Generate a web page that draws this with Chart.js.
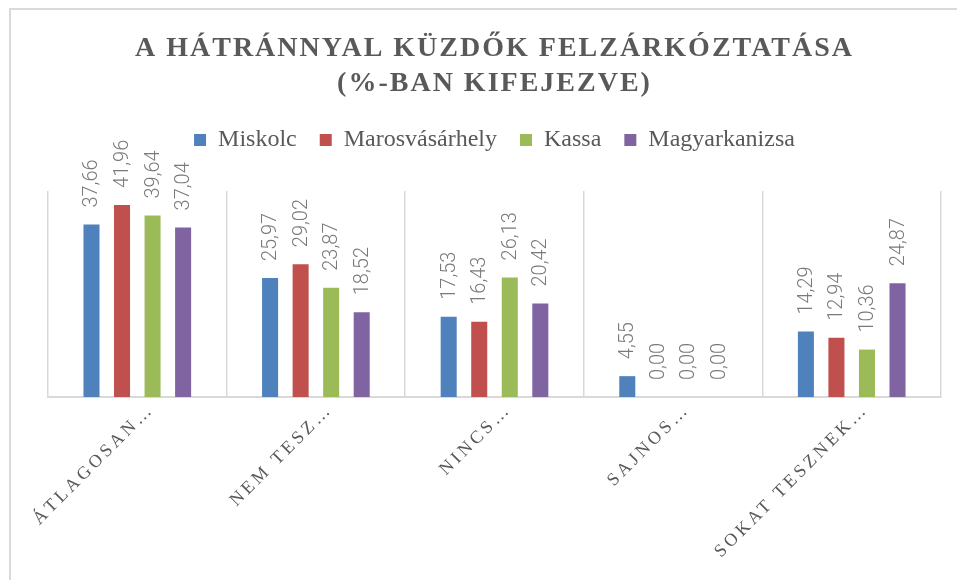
<!DOCTYPE html>
<html>
<head>
<meta charset="utf-8">
<script src="https://cdn.jsdelivr.net/npm/chart.js@4"></script>
<style>
  body { margin: 0; background: #fff; overflow: hidden; }
  .frame {
    position: absolute; left: 9px; top: 8px;
    border-left: 2px solid #d9d9d9; border-top: 2px solid #d9d9d9;
  }
  .chart-box { position: relative; width: 956px; height: 570px; }
</style>
</head>
<body>
<div class="frame">
  <div class="chart-box"><canvas id="chart"></canvas></div>
</div>
<script>
const titleLines = ["A HÁTRÁNNYAL KÜZDŐK FELZÁRKÓZTATÁSA", "(%-BAN KIFEJEZVE)"];
const categories = ["ÁTLAGOSAN…", "NEM TESZ…", "NINCS…", "SAJNOS…", "SOKAT TESZNEK…"];
const seriesNames = ["Miskolc", "Marosvásárhely", "Kassa", "Magyarkanizsa"];
const miskolc = [37.66, 25.97, 17.53, 4.55, 14.29];
const marosvasarhely = [41.96, 29.02, 16.43, 0.0, 12.94];
const kassa = [39.64, 23.87, 26.13, 0.0, 10.36];
const magyarkanizsa = [37.04, 18.52, 20.42, 0.0, 24.87];
const colors = ["#4F81BD", "#C0504D", "#9BBB59", "#8064A2"];

const fmt = (v) => v.toFixed(2).replace(".", ",");

// wrap a draw method so it runs with canvas letter spacing
function spaced(obj, name, spacing) {
  if (!obj || obj[name].spacedWrap) return;
  const orig = obj[name];
  const wrapped = function (...args) {
    const ctx = this.ctx;
    ctx.save();
    ctx.letterSpacing = spacing;
    orig.apply(this, args);
    ctx.restore();
  };
  wrapped.spacedWrap = true;
  obj[name] = wrapped;
}

const spacingPlugin = {
  id: "spacing",
  beforeDraw(chart) {
    spaced(chart.titleBlock, "draw", "2px");
    spaced(chart.scales.x, "drawLabels", "3.5px");
  }
};

// extra room between legend and plot
const legendGap = {
  id: "legendGap",
  beforeInit(chart) {
    const fit = chart.legend.fit;
    chart.legend.fit = function () {
      fit.call(this);
      this.height += 29;
    };
  }
};

const valueLabels = {
  id: "valueLabels",
  afterDatasetsDraw(chart) {
    const ctx = chart.ctx;
    ctx.save();
    ctx.font = "300 20px Roboto";
    ctx.fillStyle = "#7a7a7a";
    ctx.textAlign = "left";
    ctx.textBaseline = "middle";
    chart.data.datasets.forEach((ds, i) => {
      chart.getDatasetMeta(i).data.forEach((bar, j) => {
        ctx.save();
        ctx.translate(bar.x + 1, bar.y - 17);
        ctx.rotate(-Math.PI / 2);
        ctx.fillText(fmt(ds.data[j]), 0, 0);
        ctx.restore();
      });
    });
    ctx.restore();
  }
};

const seriesData = [miskolc, marosvasarhely, kassa, magyarkanizsa];

new Chart(document.getElementById("chart").getContext("2d"), {
  type: "bar",
  data: {
    labels: categories,
    datasets: seriesNames.map((name, i) => ({
      label: name,
      data: seriesData[i],
      backgroundColor: colors[i],
      borderWidth: 0,
      barPercentage: 0.525,
      categoryPercentage: 0.684
    }))
  },
  options: {
    responsive: true,
    maintainAspectRatio: false,
    animation: false,
    layout: { padding: { left: 37, right: 26, top: 0, bottom: 0 } },
    plugins: {
      title: {
        display: true,
        text: titleLines,
        color: "#595959",
        font: { family: "'Liberation Serif', serif", size: 28, weight: "bold", lineHeight: 1.25 },
        padding: { top: 21, bottom: 4 }
      },
      legend: {
        position: "top",
        labels: {
          color: "#595959",
          font: { family: "'Liberation Serif', serif", size: 24 },
          boxWidth: 12,
          boxHeight: 12,
          padding: 23
        }
      },
      tooltip: { enabled: false }
    },
    scales: {
      x: {
        grid: { display: true, offset: true, color: "#d9d9d9", lineWidth: 1.5, drawTicks: false },
        border: { display: true, color: "#d9d9d9", width: 2 },
        ticks: {
          color: "#595959",
          font: { family: "'Liberation Serif', serif", size: 18 },
          minRotation: 45,
          maxRotation: 45,
          autoSkip: false,
          padding: 2,
          labelOffset: 14
        },
        afterFit(scale) {
          scale.height = 183;
          scale.paddingLeft = 0;
          scale.paddingRight = 0;
        }
      },
      y: {
        display: false,
        min: 0,
        max: 45
      }
    }
  },
  plugins: [spacingPlugin, legendGap, valueLabels]
});
</script>
</body>
</html>
